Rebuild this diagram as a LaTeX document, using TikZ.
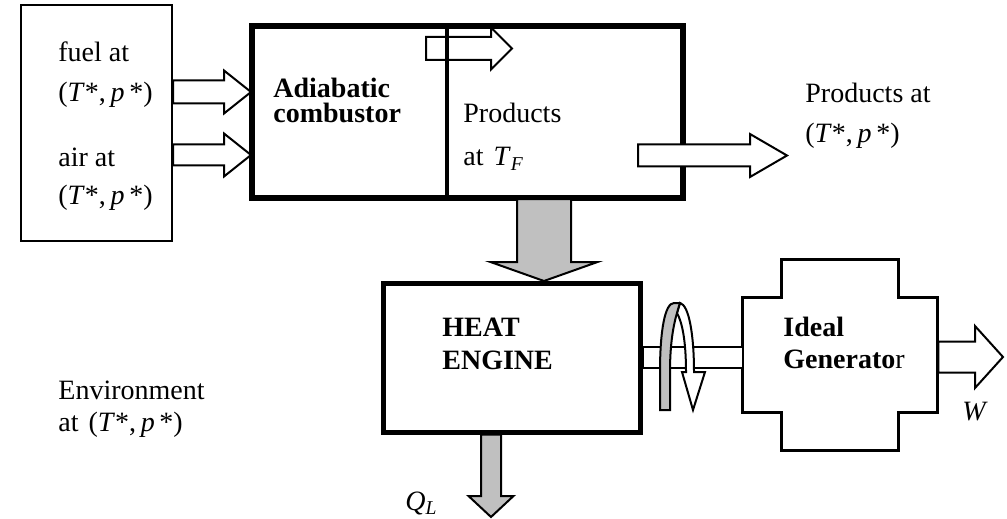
\documentclass[tikz,border=0pt]{standalone}
\usepackage{fontspec}
\setmainfont{Liberation Serif}
\usetikzlibrary{calc,positioning}
\definecolor{Ink}{HTML}{000000}
\definecolor{HeatGrey}{HTML}{C0C0C0}
\newcommand{\TPstate}{(\textit{T}*,\,\textit{p}\,*)}
% block arrow: [style]{from}{to}{shaft half width}{head half width}{head length}
\newcommand{\blockarrow}[6][]{%
  \path[#1] let \p1=(#2), \p2=(#3), \n1={atan2(\y2-\y1,\x2-\x1)}, \n2={veclen(\x2-\x1,\y2-\y1)} in
    {[shift={(\p1)}, rotate=\n1] (0pt,#4) -- (\n2-#6,#4) -- (\n2-#6,#5) -- (\n2,0pt)
      -- (\n2-#6,-#5) -- (\n2-#6,-#4) -- (0pt,-#4) -- cycle};}

\begin{document}
\begin{tikzpicture}[
  x=0.5pt, y=-0.5pt,
  lead/.style={font=\fontsize{14}{#1}\selectfont},
  boldlead/.style={font=\fontsize{14}{#1}\selectfont\bfseries},
  lbl/.style={inner sep=0pt, anchor=north west, align=left},
  thinbox/.style={draw=Ink, line width=1pt, inner sep=0pt},
  thickbox/.style={draw=Ink, line width=2pt, inner sep=0pt},
  heavybox/.style={draw=Ink, line width=2.5pt, inner sep=0pt},
  genline/.style={draw=Ink, line width=1.75pt},
  whitearr/.style={draw=Ink, fill=white, line width=1pt, line join=miter},
  greyarr/.style={draw=Ink, fill=HeatGrey, line width=1pt, line join=miter}
]
\useasboundingbox (0,0) rectangle (1007,519);

% boxes
\node[thinbox, minimum width=75.5pt, minimum height=118pt] (feed) at (96.5,123) {};
\node[thickbox, minimum width=214.5pt, minimum height=85pt] (comb) at (467.5,112) {};
\node[heavybox, minimum width=128.5pt, minimum height=74.5pt] (eng) at (511.5,357.5) {};
\node[minimum width=97.5pt, minimum height=57.5pt, inner sep=0pt] (gen) at (840.5,355.5) {};
\coordinate (split) at (447,0);

% generator outline
\draw[genline] (gen.north west) -- ++(19.5pt,0pt) -- ++(0pt,19pt) -- ++(58.5pt,0pt) -- ++(0pt,-19pt)
  -- ++(19.5pt,0pt) -- ++(0pt,-57.5pt) -- ++(-19.5pt,0pt) -- ++(0pt,-19pt) -- ++(-58.5pt,0pt)
  -- ++(0pt,19pt) -- ++(-19.5pt,0pt) -- cycle;

% labels
\node[lbl, lead=20] (fueltxt) at (58,41) {fuel at\\\TPstate};
\node[lbl, lead=19] (airtxt) at (58,148) {air at\\\TPstate};
\node[lbl, boldlead=12.5] (combtxt) at (273,78) {Adiabatic\\combustor};
\node[lbl, lead=21.5] (hottxt) at (463,103) {Products\\at\hspace{5pt}\textit{T}\textsubscript{\textit{F}}};
\node[lbl, lead=20] (outtxt) at (805,83) {Products at\\\TPstate};
\node[lbl, boldlead=16.5] (engtxt) at (442,318) {HEAT\\ENGINE};
\node[lbl, boldlead=16] (gentxt) at (783,317) {Ideal\\Generato{\mdseries r}};
\node[lbl, lead=16] (envtxt) at (58,381) {Environment\\at\hspace{5pt}\TPstate};
\node[inner sep=0pt, anchor=base west, lead=16] (wtxt) at (962,420) {\textit{W}};
\node[inner sep=0pt, anchor=base west, lead=16] (qtxt) at (405,510) {\textit{Q}\textsubscript{\textit{L}}};

% flows
\blockarrow[whitearr]{feed.east |- 0,92}{comb.west |- 0,92}{5.75pt}{10.75pt}{13.5pt}
\blockarrow[whitearr]{feed.east |- 0,155}{comb.west |- 0,155}{5.25pt}{10.75pt}{13.5pt}
\blockarrow[whitearr]{426,48.5}{512,48.5}{5.75pt}{10.5pt}{10.5pt}
\draw[thickbox] (comb.north west) rectangle (comb.south east);
\draw[draw=Ink, line width=1.75pt] (comb.north -| split) -- (comb.south -| split);
\blockarrow[whitearr]{638,155.5}{787,155.5}{5.5pt}{10.75pt}{18.5pt}
\blockarrow[greyarr]{comb.south -| 544,0}{544,281}{13.5pt}{26.75pt}{9.5pt}
\blockarrow[greyarr]{eng.south -| 491,0}{491,517}{5pt}{11.25pt}{10.5pt}
\blockarrow[whitearr]{gen.east |- 0,357}{1003,357}{7.75pt}{15.5pt}{14pt}

% shaft and rotation
\draw[draw=Ink, fill=white, line width=1pt] (eng.east |- 0,347) rectangle (gen.west |- 0,368);
\draw[whitearr] (680,303) .. controls (689,305) and (694,335) .. (694,372) -- (705,372) -- (693,410)
  -- (682,372) -- (686,372) .. controls (686,340) and (682,322) .. (677,313) -- cycle;
\draw[greyarr] (660,410) -- (660,372) .. controls (660,330) and (665,303) .. (674,303) -- (680,303)
  .. controls (679,306) and (678,309) .. (677,313) .. controls (672,330) and (670,350) .. (670,372)
  -- (670,410) -- cycle;
\end{tikzpicture}
\end{document}
